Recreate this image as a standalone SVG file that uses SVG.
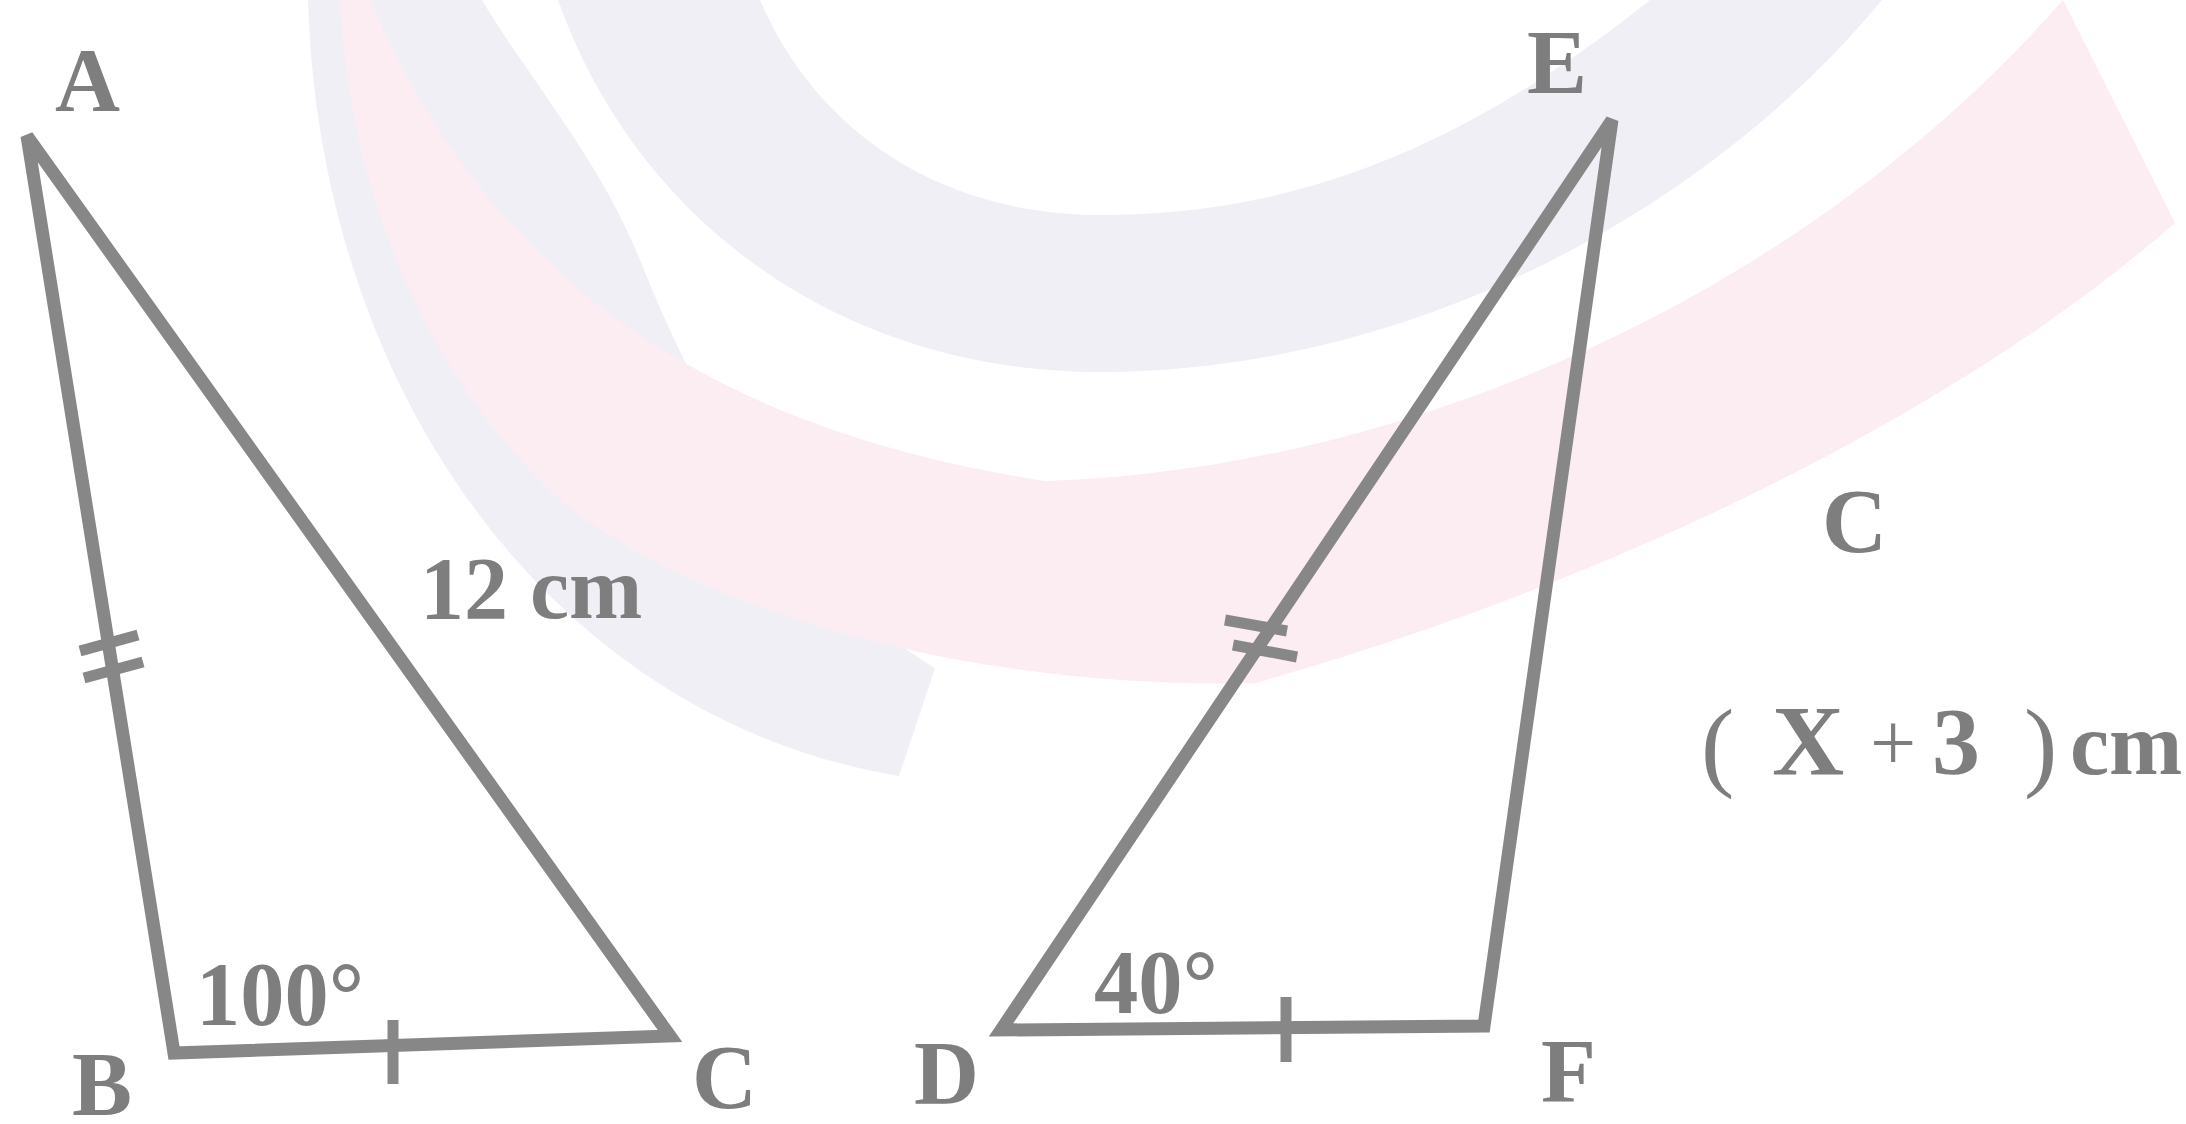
<svg xmlns="http://www.w3.org/2000/svg" width="2186" height="1124" viewBox="0 0 2186 1124">
<style>
.edge{fill:none;stroke:#878787;stroke-width:13;stroke-linejoin:miter;stroke-miterlimit:3.5;stroke-linecap:butt}
.tick{fill:none;stroke:#878787;stroke-width:11;stroke-linecap:butt}
.lbl{font-family:"Liberation Serif","Times New Roman",serif;font-weight:bold;fill:#7e7e7e;font-size:90px}
.reg{font-family:"Liberation Serif","Times New Roman",serif;font-weight:normal;fill:#7e7e7e}
.bld{font-family:"Liberation Serif","Times New Roman",serif;font-weight:bold;fill:#7e7e7e}
</style>
<rect width="2186" height="1124" fill="#ffffff"/>
<g id="watermark">
  <path d="M308,0 C320,400 560,720 899,776 L935,668 C820,600 720,460 640,260 C600,160 530,80 482,0 Z" fill="#efeff5"/>
  <path d="M558,0 C640,230 850,372 1100,372 C1400,372 1700,220 1882,0 L1650,0 C1450,160 1280,215 1100,215 C950,215 820,140 760,0 Z" fill="#efeff5"/>
  <path d="M340,0 L370,0 C470,230 650,420 1045,481 C1400,470 1800,300 2063,0 L2175,223 C1952,418 1603,585 1255,683 C976,690 697,613 560,500 C430,380 350,200 340,0 Z" fill="#fcedf2"/>
</g>
<g id="connectors">
  <polygon id="triangle-ABC" class="edge" points="27,136 174,1053 670,1036"/>
  <polygon id="triangle-DEF" class="edge" points="1001,1030 1612,120 1484,1026"/>
  <line class="tick" x1="80" y1="651" x2="138" y2="635"/>
  <line class="tick" x1="84" y1="678" x2="143" y2="662"/>
  <line class="tick" x1="393" y1="1020" x2="393" y2="1084"/>
  <line class="tick" x1="1225" y1="620" x2="1287" y2="631"/>
  <line class="tick" x1="1233" y1="645" x2="1297" y2="657"/>
  <line class="tick" x1="1286" y1="997" x2="1286" y2="1062"/>
</g>
<g id="node-A"><text class="lbl" x="55" y="111">A</text></g>
<g id="node-B"><text class="lbl" x="72" y="1115">B</text></g>
<g id="node-C"><text class="lbl" x="692" y="1108">C</text></g>
<g id="node-D"><text class="lbl" x="914" y="1104">D</text></g>
<g id="node-E"><text class="lbl" x="1527" y="93">E</text></g>
<g id="node-F"><text class="lbl" x="1541" y="1102">F</text></g>
<g id="label-12cm"><text class="bld" x="420" y="618" font-size="88">12 cm</text></g>
<g id="label-100"><text class="bld" x="196" y="1025" font-size="92" textLength="168" lengthAdjust="spacingAndGlyphs">100°</text></g>
<g id="label-40"><text class="bld" x="1094" y="1013" font-size="92" textLength="124" lengthAdjust="spacingAndGlyphs">40°</text></g>
<g id="label-C-right"><text class="lbl" x="1822" y="552">C</text></g>
<g id="label-x3">
  <text class="reg" x="1701" y="778" font-size="100">(</text>
  <text class="bld" x="1772" y="774" font-size="100">X</text>
  <text class="reg" x="1870" y="770" font-size="82">+</text>
  <text class="bld" x="1932" y="774" font-size="96">3</text>
  <text class="reg" x="2024" y="778" font-size="100">)</text>
  <text class="bld" x="2070" y="774" font-size="88">cm</text>
</g>
</svg>
